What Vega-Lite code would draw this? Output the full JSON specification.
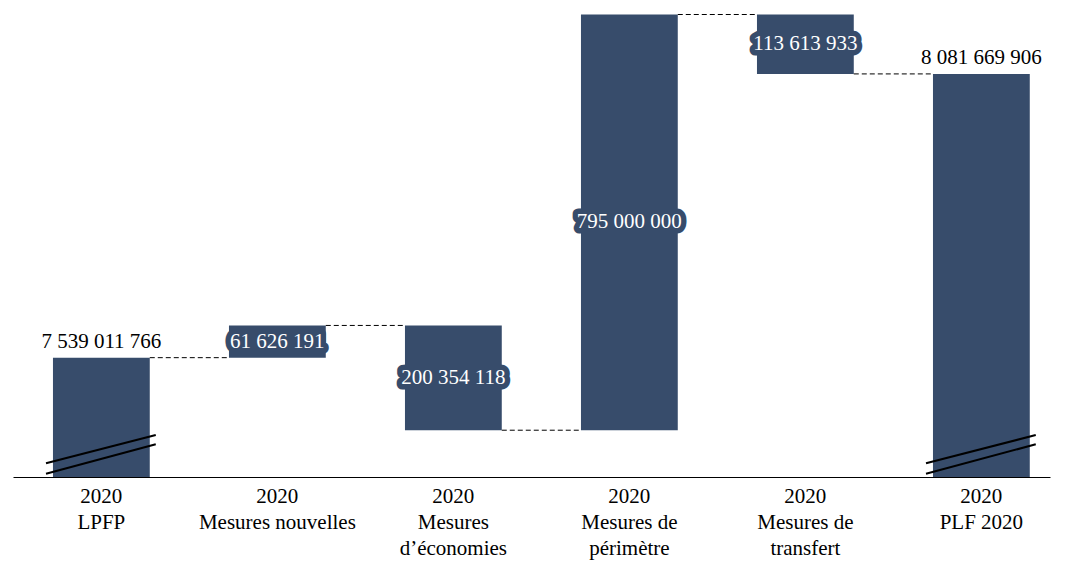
{
  "$schema": "https://vega.github.io/schema/vega-lite/v6.json",
  "width": 1037,
  "height": 467,
  "autosize": {"type": "none"},
  "padding": {"left": 13, "top": 10, "right": 33, "bottom": 96},
  "config": {"view": {"stroke": null}, "font": "Liberation Serif, DejaVu Serif, serif"},
  "data": {
    "values": [
      {"order": 1, "cat": "2020|LPFP", "kind": "total", "start": 0, "end": 7539011766, "label": "7 539 011 766"},
      {"order": 2, "cat": "2020|Mesures nouvelles", "kind": "delta", "start": 7539011766, "end": 7600637957, "label": "61 626 191"},
      {"order": 3, "cat": "2020|Mesures|d’économies", "kind": "delta", "start": 7600637957, "end": 7400283839, "label": "200 354 118"},
      {"order": 4, "cat": "2020|Mesures de|périmètre", "kind": "delta", "start": 7400283839, "end": 8195283839, "label": "795 000 000"},
      {"order": 5, "cat": "2020|Mesures de|transfert", "kind": "delta", "start": 8195283839, "end": 8081669906, "label": "113 613 933"},
      {"order": 6, "cat": "2020|PLF 2020", "kind": "total", "start": 0, "end": 8081669906, "label": "8 081 669 906"}
    ]
  },
  "transform": [{"calculate": "(datum.start + datum.end) / 2", "as": "mid"}],
  "encoding": {
    "x": {
      "field": "cat",
      "type": "nominal",
      "scale": {
        "domain": ["2020|LPFP", "2020|Mesures nouvelles", "2020|Mesures|d’économies", "2020|Mesures de|périmètre", "2020|Mesures de|transfert", "2020|PLF 2020"],
        "paddingInner": 0.45,
        "paddingOuter": 0.171,
        "align": 0.664
      },
      "axis": {
        "title": null,
        "labelAngle": 0,
        "labelExpr": "split(datum.label, '|')",
        "labelFont": "Liberation Serif, DejaVu Serif, serif",
        "labelFontSize": 21,
        "labelColor": "black",
        "labelLineHeight": 26,
        "labelPadding": 8,
        "labelLimit": 0,
        "labelOverlap": false,
        "labelBound": false,
        "ticks": false,
        "domainColor": "black",
        "domainWidth": 1
      }
    }
  },
  "layer": [
    {
      "mark": {"type": "bar", "color": "#374c6b", "clip": true},
      "encoding": {
        "y": {"field": "start", "type": "quantitative", "scale": {"domain": [7310800000, 8203900000], "zero": false, "nice": false}, "axis": null},
        "y2": {"field": "end"}
      }
    },
    {
      "transform": [
        {"window": [{"op": "lead", "field": "cat", "as": "next"}], "sort": [{"field": "order"}]},
        {"filter": "datum.next != null"}
      ],
      "mark": {"type": "rule", "color": "black", "strokeWidth": 1, "strokeDash": [5, 3]},
      "encoding": {
        "x": {"field": "cat", "type": "nominal", "bandPosition": 1},
        "x2": {"field": "next", "bandPosition": 0},
        "y": {"field": "end", "type": "quantitative"}
      }
    },
    {
      "transform": [{"filter": "datum.kind == 'total'"}],
      "mark": {"type": "rule", "color": "black", "strokeWidth": 2},
      "encoding": {
        "x": {"field": "cat", "type": "nominal", "bandPosition": -0.072},
        "x2": {"field": "cat", "bandPosition": 1.062},
        "y": {"datum": 7317100000, "type": "quantitative"},
        "y2": {"datum": 7373300000}
      }
    },
    {
      "transform": [{"filter": "datum.kind == 'total'"}],
      "mark": {"type": "rule", "color": "black", "strokeWidth": 2},
      "encoding": {
        "x": {"field": "cat", "type": "nominal", "bandPosition": -0.072},
        "x2": {"field": "cat", "bandPosition": 1.062},
        "y": {"datum": 7337000000, "type": "quantitative"},
        "y2": {"datum": 7391100000}
      }
    },
    {
      "transform": [{"filter": "datum.kind == 'total'"}],
      "mark": {"type": "text", "color": "black", "fontSize": 21, "baseline": "alphabetic", "dy": -10, "font": "Liberation Serif, DejaVu Serif, serif"},
      "encoding": {
        "x": {"field": "cat", "type": "nominal", "bandPosition": 0.5},
        "y": {"field": "end", "type": "quantitative"},
        "text": {"field": "label"}
      }
    },
    {
      "transform": [{"filter": "datum.kind == 'delta'"}],
      "mark": {"type": "text", "fill": "#374c6b", "stroke": "#374c6b", "strokeWidth": 11, "strokeJoin": "round", "fontSize": 21, "baseline": "middle", "font": "Liberation Serif, DejaVu Serif, serif"},
      "encoding": {
        "x": {"field": "cat", "type": "nominal", "bandPosition": 0.5},
        "y": {"field": "mid", "type": "quantitative"},
        "text": {"field": "label"}
      }
    },
    {
      "transform": [{"filter": "datum.kind == 'delta'"}],
      "mark": {"type": "text", "color": "white", "fontSize": 21, "baseline": "middle", "font": "Liberation Serif, DejaVu Serif, serif"},
      "encoding": {
        "x": {"field": "cat", "type": "nominal", "bandPosition": 0.5},
        "y": {"field": "mid", "type": "quantitative"},
        "text": {"field": "label"}
      }
    }
  ]
}
